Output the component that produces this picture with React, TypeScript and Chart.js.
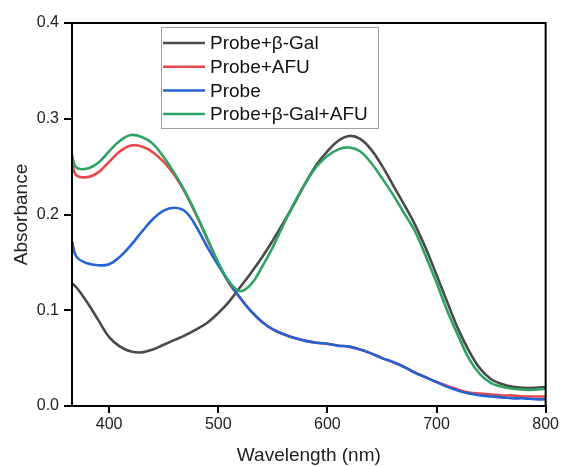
import React, { useEffect, useRef } from "react";
import { Chart, registerables } from "chart.js";

Chart.register(...registerables);

const wavelengths = [366, 370, 380, 390, 400, 410, 420, 430, 440, 450, 460, 470, 480, 490, 500, 510, 520, 530, 540, 550, 560, 570, 580, 590, 600, 610, 620, 630, 640, 650, 660, 670, 680, 690, 700, 710, 720, 730, 740, 750, 760, 770, 780, 790, 800];

const probeGal = [0.128, 0.124, 0.108, 0.090, 0.072, 0.062, 0.057, 0.056, 0.059, 0.064, 0.069, 0.074, 0.080, 0.087, 0.097, 0.109, 0.124, 0.139, 0.155, 0.173, 0.192, 0.212, 0.233, 0.252, 0.266, 0.277, 0.282, 0.279, 0.268, 0.251, 0.231, 0.211, 0.190, 0.165, 0.137, 0.108, 0.080, 0.057, 0.039, 0.028, 0.023, 0.020, 0.019, 0.019, 0.020];

const probeAfu = [0.253, 0.241, 0.239, 0.244, 0.255, 0.266, 0.272, 0.271, 0.265, 0.255, 0.241, 0.222, 0.199, 0.174, 0.149, 0.128, 0.113, 0.099, 0.088, 0.080, 0.075, 0.071, 0.068, 0.066, 0.065, 0.063, 0.062, 0.059, 0.055, 0.050, 0.046, 0.041, 0.035, 0.030, 0.025, 0.021, 0.017, 0.014, 0.013, 0.012, 0.011, 0.011, 0.010, 0.010, 0.010];

const probe = [0.172, 0.156, 0.149, 0.147, 0.148, 0.156, 0.168, 0.182, 0.195, 0.204, 0.207, 0.203, 0.187, 0.166, 0.147, 0.129, 0.113, 0.099, 0.088, 0.080, 0.075, 0.071, 0.068, 0.066, 0.065, 0.063, 0.062, 0.059, 0.055, 0.050, 0.046, 0.041, 0.035, 0.030, 0.025, 0.020, 0.016, 0.013, 0.011, 0.010, 0.009, 0.008, 0.008, 0.007, 0.007];

const probeGalAfu = [0.262, 0.249, 0.248, 0.254, 0.266, 0.277, 0.283, 0.281, 0.274, 0.260, 0.243, 0.223, 0.200, 0.175, 0.150, 0.130, 0.120, 0.127, 0.145, 0.166, 0.190, 0.213, 0.233, 0.250, 0.261, 0.268, 0.270, 0.266, 0.254, 0.238, 0.221, 0.202, 0.183, 0.157, 0.129, 0.099, 0.073, 0.049, 0.033, 0.024, 0.020, 0.018, 0.017, 0.017, 0.018];

const seriesLabels = ["Probe+β-Gal", "Probe+AFU", "Probe", "Probe+β-Gal+AFU"];
const seriesColors = ["#4a4a4a", "#e8474c", "#2463d4", "#2ea363"];
const seriesData = [probeGal, probeAfu, probe, probeGalAfu];
const seriesOrder = [3, 2, 1, 0];

const xTicks = [400, 500, 600, 700, 800];
const xTitle = "Wavelength (nm)";
const yTitle = "Absorbance";

const FONT = "'Liberation Sans', Arial, sans-serif";

const framePlugin = {
  id: "frameAndLegend",
  afterDatasetsDraw(chart: any) {
    const { ctx, chartArea } = chart;
    ctx.save();
    ctx.strokeStyle = "#000";
    ctx.lineWidth = 2;
    ctx.strokeRect(chartArea.left, chartArea.top, chartArea.right - chartArea.left, chartArea.bottom - chartArea.top);

    // legend box
    const bx = 161.5, by = 27.5, bw = 217, bh = 101;
    ctx.fillStyle = "#fff";
    ctx.fillRect(bx, by, bw, bh);
    ctx.strokeStyle = "#a0a0a0";
    ctx.lineWidth = 1;
    ctx.strokeRect(bx, by, bw, bh);
    ctx.font = `19px ${FONT}`;
    ctx.textBaseline = "middle";
    ctx.textAlign = "left";
    chart.data.datasets.forEach((ds: any, i: number) => {
      const y = 43 + i * 23.7;
      ctx.strokeStyle = ds.borderColor;
      ctx.lineWidth = 2.5;
      ctx.beginPath();
      ctx.moveTo(163, y);
      ctx.lineTo(205, y);
      ctx.stroke();
      ctx.fillStyle = "#111";
      ctx.fillText(ds.label, 210, y + 1);
    });
    ctx.restore();
  },
};

export default function App() {
  const ref = useRef<HTMLCanvasElement | null>(null);
  useEffect(() => {
    if (!ref.current) return;
    const chart = new Chart(ref.current, {
      type: "line",
      data: {
        datasets: seriesLabels.map((label, i) => ({
          label,
          data: wavelengths.map((w, j) => ({ x: w, y: seriesData[i][j] })),
          borderColor: seriesColors[i],
          backgroundColor: seriesColors[i],
          borderWidth: 2.6,
          pointRadius: 0,
          tension: 0.4,
          order: seriesOrder[i],
        })),
      },
      options: {
        animation: false,
        responsive: true,
        maintainAspectRatio: false,
        layout: { padding: { top: 23, right: 14, left: 0, bottom: 0 } },
        plugins: { legend: { display: false }, tooltip: { enabled: false } },
        scales: {
          x: {
            type: "linear",
            min: 366,
            max: 800,
            afterBuildTicks: (s: any) => {
              s.ticks = xTicks.map((v) => ({ value: v }));
            },
            afterFit: (s: any) => {
              s.height = 60;
            },
            grid: { display: true, drawOnChartArea: false, drawTicks: true, tickLength: 7, color: "#000", lineWidth: 2 },
            border: { display: true, color: "#000", width: 2 },
            ticks: { color: "#222", font: { family: FONT, size: 16 }, padding: 2, maxRotation: 0 },
            title: { display: true, text: xTitle, color: "#222", font: { family: FONT, size: 19, lineHeight: 1 }, padding: { top: 0, bottom: 1 } },
          },
          y: {
            min: 0,
            max: 0.4,
            ticks: { stepSize: 0.1, color: "#222", font: { family: FONT, size: 16 }, padding: 5, callback: (v: any) => Number(v).toFixed(1) },
            afterFit: (s: any) => {
              s.width = 72;
            },
            grid: { display: true, drawOnChartArea: false, drawTicks: true, tickLength: 8, color: "#000", lineWidth: 2 },
            border: { display: true, color: "#000", width: 2 },
            title: { display: true, text: yTitle, color: "#222", font: { family: FONT, size: 19, lineHeight: 1 }, padding: { top: 12, bottom: 0 } },
          },
        },
      },
      plugins: [framePlugin],
    });
    return () => chart.destroy();
  }, []);
  return (
    <div style={{ position: "fixed", left: 0, top: 0, width: 561, height: 466, background: "#fff" }}>
      <canvas ref={ref} />
    </div>
  );
}
